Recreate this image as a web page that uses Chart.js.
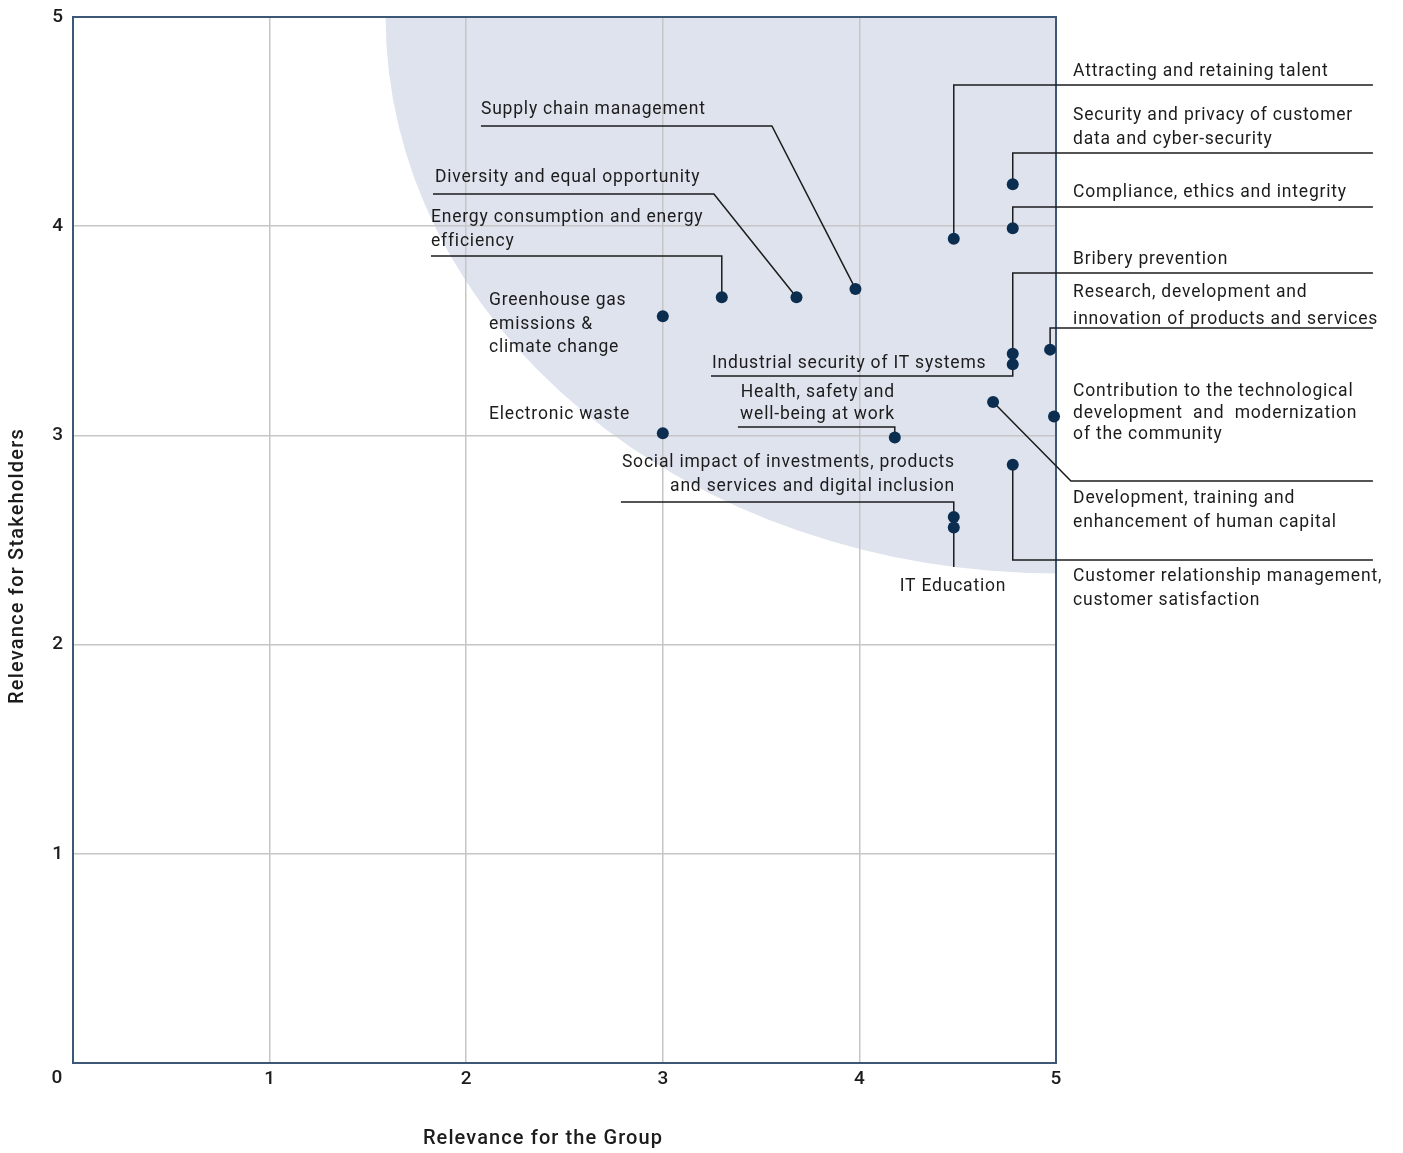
<!DOCTYPE html>
<html>
<head>
<meta charset="utf-8">
<script src="https://cdn.jsdelivr.net/npm/chart.js@4.4.1/dist/chart.umd.min.js"></script>
<style>
  html, body { margin: 0; padding: 0; background: #fff; }
  canvas { display: block; }
</style>
</head>
<body>
<canvas id="materialityChart" width="1403" height="1153"></canvas>
<script>
// materiality topics, scores
const topics = [
    'Attracting and retaining talent',
    'Security and privacy of customer data and cyber-security',
    'Compliance, ethics and integrity',
    'Bribery prevention',
    'Industrial security of IT systems',
    'Research, development and innovation of products and services',
    'Contribution to the technological development and modernization of the community',
    'Development, training and enhancement of human capital',
    'Customer relationship management, customer satisfaction',
    'Social impact of investments, products and services and digital inclusion',
    'IT Education',
    'Health, safety and well-being at work',
    'Electronic waste',
    'Greenhouse gas emissions & climate change',
    'Energy consumption and energy efficiency',
    'Diversity and equal opportunity',
    'Supply chain management'
];
const groupScores =       [4.48, 4.78, 4.78, 4.78, 4.78, 4.97, 4.99, 4.68, 4.78, 4.48, 4.48, 4.18, 3.00, 3.00, 3.30, 3.68, 3.98];
const stakeholderScores = [3.94, 4.20, 3.99, 3.39, 3.34, 3.41, 3.09, 3.16, 2.86, 2.61, 2.56, 2.99, 3.01, 3.57, 3.66, 3.66, 3.70];
const tickValues = [0, 1, 2, 3, 4, 5];

// label placement (in axis units) and leader bends
const callouts = [
    { i: 0,  lines: ['Attracting and retaining talent'], at: [5.087, 4.750], path: [[4.48, 4.675], [6.612, 4.675]] },
    { i: 1,  lines: ['Security and privacy of customer', 'data and cyber-security'], at: [5.087, 4.537], path: [[4.78, 4.350], [6.612, 4.350]] },
    { i: 2,  lines: ['Compliance, ethics and integrity'], at: [5.087, 4.168], path: [[4.78, 4.092], [6.612, 4.092]] },
    { i: 3,  lines: ['Bribery prevention'], at: [5.087, 3.848], path: [[4.78, 3.776], [6.612, 3.776]] },
    { i: 4,  lines: ['Industrial security of IT systems'], at: [3.250, 3.351], path: [[4.78, 3.284], [3.245, 3.284]] },
    { i: 5,  lines: ['Research, development and', 'innovation of products and services'], at: [5.087, 3.690], gap: 27, path: [[4.97, 3.513], [6.612, 3.513]] },
    { i: 6,  lines: ['Contribution to the technological', 'development  and  modernization', 'of the community'], at: [5.087, 3.217], gap: 21.5 },
    { i: 7,  lines: ['Development, training and', 'enhancement of human capital'], at: [5.087, 2.705], path: [[5.076, 2.782], [6.612, 2.782]] },
    { i: 8,  lines: ['Customer relationship management,', 'customer satisfaction'], at: [5.087, 2.333], path: [[4.78, 2.404], [6.612, 2.404]] },
    { i: 9,  lines: ['Social impact of investments, products', 'and services and digital inclusion'], at: [4.486, 2.878], align: 'right', path: [[4.48, 2.682], [2.787, 2.682]] },
    { i: 10, lines: ['IT Education'], at: [4.476, 2.285], align: 'center', path: [[4.48, 2.371]] },
    { i: 11, lines: ['Health, safety and', 'well-being at work'], at: [4.181, 3.212], align: 'right', gap: 22, path: [[4.18, 3.040], [3.382, 3.040]] },
    { i: 12, lines: ['Electronic waste'], at: [2.116, 3.108] },
    { i: 13, lines: ['Greenhouse gas', 'emissions &', 'climate change'], at: [2.116, 3.652] },
    { i: 14, lines: ['Energy consumption and energy', 'efficiency'], at: [1.821, 4.049], path: [[3.30, 3.858], [1.821, 3.858]] },
    { i: 15, lines: ['Diversity and equal opportunity'], at: [1.841, 4.240], path: [[3.260, 4.154], [1.831, 4.154]] },
    { i: 16, lines: ['Supply chain management'], at: [2.075, 4.565], path: [[3.555, 4.479], [2.075, 4.479]] }
];

const shade = { fromX: 1.59, downToY: 2.34 };

const matrixOverlay = {
    id: 'matrixOverlay',
    beforeDraw(chart) {
        const { ctx, chartArea: a, scales: { x, y } } = chart;
        const cx = x.getPixelForValue(5), cy = y.getPixelForValue(5);
        ctx.save();
        ctx.beginPath();
        ctx.rect(a.left, a.top, a.right - a.left, a.bottom - a.top);
        ctx.clip();
        ctx.beginPath();
        ctx.ellipse(cx, cy, cx - x.getPixelForValue(shade.fromX), y.getPixelForValue(shade.downToY) - cy, 0, 0, Math.PI * 2);
        ctx.fillStyle = '#dfe3ee';
        ctx.fill();
        ctx.restore();
    },
    beforeDatasetsDraw(chart) {
        const { ctx, chartArea: a, scales: { x, y } } = chart;
        ctx.save();
        ctx.strokeStyle = '#3d5877';
        ctx.lineWidth = 2;
        ctx.strokeRect(a.left, a.top, a.right - a.left, a.bottom - a.top);

        ctx.strokeStyle = '#1c1c1c';
        ctx.lineWidth = 1.5;
        callouts.forEach(c => {
            if (!c.path) return;
            ctx.beginPath();
            ctx.moveTo(x.getPixelForValue(groupScores[c.i]), y.getPixelForValue(stakeholderScores[c.i]));
            c.path.forEach(p => ctx.lineTo(x.getPixelForValue(p[0]), y.getPixelForValue(p[1])));
            ctx.stroke();
        });
        ctx.restore();
    },
    afterDraw(chart) {
        const { ctx, chartArea: a, scales: { x, y } } = chart;
        ctx.save();
        ctx.fillStyle = '#1c1c1c';
        ctx.font = '400 17.5px Roboto';
        ctx.letterSpacing = '0.8px';
        ctx.textBaseline = 'middle';
        callouts.forEach(c => {
            const gap = c.gap || 23.5;
            ctx.textAlign = c.align || 'left';
            const px = x.getPixelForValue(c.at[0]);
            const py = y.getPixelForValue(c.at[1]) + 2;
            c.lines.forEach((t, k) => ctx.fillText(t, px, py + k * gap));
        });

        // corner zero + axis titles
        ctx.letterSpacing = '0px';
        ctx.font = '500 19px Roboto';
        ctx.textAlign = 'center';
        ctx.fillText('0', a.left - 16, a.bottom + 15);

        ctx.font = '500 20px Roboto';
        ctx.letterSpacing = '1.1px';
        ctx.fillText('Relevance for the Group', 543, 1139);
        ctx.letterSpacing = '1.2px';
        ctx.translate(18, 566);
        ctx.rotate(-Math.PI / 2);
        ctx.fillText('Relevance for Stakeholders', 0, 0);
        ctx.restore();
    }
};

const tickFont = { family: 'Roboto', size: 19, weight: '500' };

new Chart(document.getElementById('materialityChart'), {
    type: 'scatter',
    data: {
        datasets: [{
            label: 'Topics',
            data: topics.map((t, i) => ({ x: groupScores[i], y: stakeholderScores[i] })),
            backgroundColor: '#0b2e50',
            borderWidth: 0,
            pointRadius: 6,
            clip: false
        }]
    },
    options: {
        responsive: false,
        animation: false,
        devicePixelRatio: 1,
        layout: { padding: { top: 17, right: 347, bottom: 0, left: 0 } },
        plugins: {
            legend: { display: false },
            tooltip: { enabled: false }
        },
        scales: {
            x: {
                type: 'linear',
                min: 0,
                max: 5,
                afterBuildTicks: s => { s.ticks = tickValues.map(v => ({ value: v })); },
                afterFit: s => { s.height = 90; s.paddingLeft = 0; s.paddingRight = 0; },
                ticks: {
                    color: '#1c1c1c',
                    font: tickFont,
                    padding: 5,
                    maxRotation: 0,
                    callback: v => v === 0 ? '' : v
                },
                grid: { color: '#c6c6c6', lineWidth: 1.5, drawTicks: false },
                border: { display: false }
            },
            y: {
                type: 'linear',
                min: 0,
                max: 5,
                afterBuildTicks: s => { s.ticks = tickValues.map(v => ({ value: v })); },
                afterFit: s => { s.width = 73; s.paddingTop = 0; s.paddingBottom = 0; },
                ticks: {
                    color: '#1c1c1c',
                    font: tickFont,
                    padding: 10,
                    callback: v => v === 0 ? '' : v
                },
                grid: { color: '#c6c6c6', lineWidth: 1.5, drawTicks: false },
                border: { display: false }
            }
        }
    },
    plugins: [matrixOverlay]
});
</script>
</body>
</html>
